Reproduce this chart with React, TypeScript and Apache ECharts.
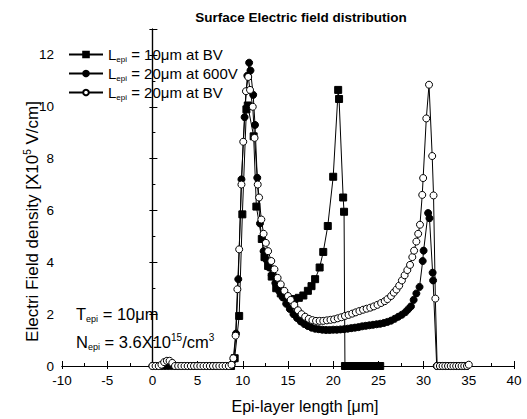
import React, { useEffect, useRef } from "react";
import * as echarts from "echarts";

const FONT = "'Liberation Sans', Arial, sans-serif";

const seriesNames = [
  "Lepi = 10μm at BV",
  "Lepi = 20μm at 600V",
  "Lepi = 20μm at BV",
];

// Lepi = 10 µm at breakdown voltage (filled squares)
const lepi10BV: [number, number][] = [
  [8.7, 0], [9.1, 0.3], [9.6, 1.93], [9.95, 5.85], [10.4, 9.9], [10.55, 10.05],
  [11.2, 8.86], [11.5, 6.15], [12.1, 4.9], [12.4, 4.2], [12.8, 3.86], [13.2, 3.45],
  [13.7, 3.0], [14.2, 2.8], [14.7, 2.65], [15.2, 2.58], [15.7, 2.58], [16.2, 2.63],
  [16.7, 2.72], [17.2, 2.9], [17.6, 3.08], [18.0, 3.35], [18.5, 3.8], [18.9, 4.4],
  [19.4, 5.4], [20.0, 7.3], [20.55, 10.65], [20.65, 10.3], [21.1, 6.5], [21.2, 5.95],
  [21.3, 0], [21.6, 0], [21.9, 0], [22.2, 0], [22.5, 0], [22.8, 0], [23.1, 0],
  [23.4, 0], [23.7, 0], [24.0, 0], [24.3, 0], [24.6, 0], [24.9, 0], [25.2, 0],
];

// Lepi = 20 µm at 600 V (filled circles)
const lepi20at600: [number, number][] = [
  [0, 0], [0.35, 0], [0.7, 0], [1.05, 0], [1.4, 0], [1.75, 0], [2.1, 0], [2.45, 0],
  [2.8, 0], [3.15, 0], [3.5, 0], [3.85, 0], [4.2, 0], [4.55, 0], [4.9, 0], [5.25, 0],
  [5.6, 0], [5.95, 0], [6.3, 0], [6.65, 0], [7.0, 0], [7.35, 0], [7.7, 0], [8.05, 0],
  [8.4, 0], [8.75, 0.05], [9.0, 0.25], [9.25, 1.25], [9.5, 3.35], [9.85, 7.2],
  [10.2, 9.6], [10.5, 11.2], [10.7, 11.7], [10.85, 11.4], [11.15, 10.46], [11.35, 9.3],
  [11.6, 7.26], [11.9, 5.5], [12.3, 4.43], [12.6, 4.1], [12.9, 3.8], [13.2, 3.5],
  [13.6, 3.2], [14.0, 2.9], [14.4, 2.65], [14.8, 2.4], [15.2, 2.2], [15.6, 2.0],
  [16.0, 1.85], [16.4, 1.72], [16.8, 1.62], [17.2, 1.54], [17.6, 1.48], [18.0, 1.44],
  [18.4, 1.42], [18.8, 1.4], [19.2, 1.39], [19.6, 1.39], [20.0, 1.4], [20.4, 1.4],
  [20.8, 1.41], [21.2, 1.42], [21.6, 1.44], [22.0, 1.46], [22.4, 1.48], [22.8, 1.5],
  [23.2, 1.53], [23.6, 1.55], [24.0, 1.57], [24.4, 1.59], [24.8, 1.61], [25.2, 1.63],
  [25.6, 1.66], [26.0, 1.7], [26.4, 1.75], [26.8, 1.82], [27.2, 1.9], [27.6, 1.98],
  [28.0, 2.08], [28.3, 2.19], [28.6, 2.3], [28.9, 2.55], [29.2, 2.8], [29.55, 3.05],
  [29.9, 4.05], [30.0, 4.45], [30.5, 5.9], [30.65, 5.7], [31.0, 3.6], [31.05, 3.3],
  [31.45, 0], [31.8, 0], [32.1, 0], [32.4, 0], [32.7, 0], [33.0, 0], [33.3, 0],
  [33.6, 0], [33.9, 0], [34.2, 0], [34.5, 0], [34.8, 0],
];

// Lepi = 20 µm at breakdown voltage (open circles)
const lepi20BV: [number, number][] = [
  [0, 0], [0.35, 0], [0.7, 0], [1.0, 0.05], [1.3, 0.15], [1.6, 0.2], [1.9, 0.2],
  [2.2, 0.12], [2.5, 0], [2.85, 0], [3.2, 0], [3.55, 0], [3.9, 0], [4.25, 0],
  [4.6, 0], [4.95, 0], [5.3, 0], [5.65, 0], [6.0, 0], [6.35, 0], [6.7, 0], [7.05, 0],
  [7.4, 0], [7.75, 0], [8.1, 0], [8.45, 0], [8.75, 0.05], [8.95, 0.3], [9.2, 1.17],
  [9.4, 2.96], [9.6, 4.5], [9.85, 7.0], [10.05, 8.65], [10.35, 10.6], [10.6, 11.15],
  [10.8, 10.65], [11.1, 10.0], [11.3, 8.8], [11.65, 7.0], [11.8, 6.5], [12.05, 5.65],
  [12.3, 5.1], [12.55, 4.75], [12.8, 4.43], [13.15, 4.05], [13.5, 3.73], [13.85, 3.4],
  [14.2, 3.15], [14.6, 2.9], [15.0, 2.7], [15.3, 2.55], [15.7, 2.35], [16.1, 2.15],
  [16.5, 2.0], [16.9, 1.9], [17.3, 1.82], [17.7, 1.77], [18.1, 1.74], [18.5, 1.74],
  [18.9, 1.74], [19.3, 1.76], [19.7, 1.78], [20.1, 1.8], [20.5, 1.84], [20.9, 1.88],
  [21.3, 1.93], [21.7, 1.97], [22.1, 2.02], [22.5, 2.07], [22.9, 2.12], [23.3, 2.17],
  [23.7, 2.21], [24.1, 2.25], [24.5, 2.3], [24.9, 2.36], [25.3, 2.43], [25.7, 2.5],
  [26.0, 2.58], [26.4, 2.7], [26.7, 2.83], [27.0, 2.95], [27.3, 3.1], [27.6, 3.3],
  [27.9, 3.5], [28.2, 3.7], [28.5, 3.9], [28.75, 4.2], [28.95, 4.45], [29.2, 4.8],
  [29.4, 5.1], [29.6, 5.45], [29.85, 6.6], [29.95, 7.25], [30.3, 9.55], [30.6, 10.85],
  [30.95, 8.1], [31.1, 6.58], [31.3, 2.6], [31.5, 0], [31.8, 0], [32.1, 0], [32.4, 0],
  [32.7, 0], [33.0, 0], [33.3, 0], [33.6, 0], [33.9, 0], [34.2, 0], [34.5, 0],
  [34.8, 0], [35.0, 0.05],
];

const legendRich: Record<string, string> = {
  "Lepi = 10μm at BV": "{m|L}{s|epi}{m| = 10μm at BV}",
  "Lepi = 20μm at 600V": "{m|L}{s|epi}{m| = 20μm at 600V}",
  "Lepi = 20μm at BV": "{m|L}{s|epi}{m| = 20μm at BV}",
};

export default function App() {
  const ref = useRef<HTMLDivElement>(null);
  useEffect(() => {
    if (!ref.current) return;
    const chart = echarts.init(ref.current, undefined, { renderer: "svg" });
    const axisCommon = {
      axisLine: { show: true, lineStyle: { color: "#000", width: 1.2 } },
      axisTick: { show: true, inside: true, length: 5, lineStyle: { color: "#000" } },
      minorTick: { show: true, splitNumber: 2, length: 3, lineStyle: { color: "#000" } },
      splitLine: { show: false },
    };
    const lineBase = { color: "#000", width: 1 };
    chart.setOption({
      animation: false,
      backgroundColor: "#fff",
      title: {
        text: "Surface Electric field distribution",
        left: 296,
        textAlign: "center",
        top: 5,
        textStyle: { fontFamily: FONT, fontSize: 13.5, fontWeight: "bold", color: "#000" },
      },
      grid: { left: 62, right: 13, top: 29, bottom: 52 },
      legend: {
        orient: "vertical",
        left: 63,
        top: 42,
        itemWidth: 34,
        itemHeight: 7,
        itemGap: 3,
        selectedMode: false,
        data: seriesNames,
        formatter: (name: string) => legendRich[name] || name,
        textStyle: {
          fontFamily: FONT,
          fontSize: 15,
          color: "#000",
          rich: {
            m: { fontFamily: FONT, fontSize: 15, color: "#000", lineHeight: 17 },
            s: { fontFamily: FONT, fontSize: 8, color: "#000", lineHeight: 6, verticalAlign: "bottom" },
          },
        },
      },
      xAxis: [
        {
          type: "value",
          min: -10,
          max: 40,
          interval: 5,
          name: "Epi-layer length [μm]",
          nameLocation: "middle",
          nameGap: 32,
          nameTextStyle: { fontFamily: FONT, fontSize: 16, color: "#000", padding: [0, 0, 0, 34] },
          axisLabel: { fontFamily: FONT, fontSize: 13.5, color: "#000", margin: 7 },
          ...axisCommon,
        },
        {
          type: "value",
          position: "top",
          min: -10,
          max: 40,
          interval: 5,
          axisLabel: { show: false },
          ...axisCommon,
          axisTick: { show: true, inside: true, length: 3, lineStyle: { color: "#000" } },
          minorTick: { show: false },
        },
      ],
      yAxis: [
        {
          type: "value",
          min: 0,
          max: 13,
          interval: 2,
          name: "{m|Electri Field density [X10}{p|5}{m| V/cm]}",
          nameLocation: "middle",
          nameGap: 20,
          nameMoveOverlap: false,
          nameTextStyle: {
            fontFamily: FONT,
            fontSize: 17,
            color: "#000",
            padding: [0, 48, 0, 0],
            rich: {
              m: { fontFamily: FONT, fontSize: 17, color: "#000", lineHeight: 20 },
              p: { fontFamily: FONT, fontSize: 10, color: "#000", lineHeight: 10, verticalAlign: "top" },
            },
          },
          axisLabel: { fontFamily: FONT, fontSize: 13.5, color: "#000", margin: 8, showMaxLabel: false },
          ...axisCommon,
        },
        {
          type: "value",
          position: "right",
          min: 0,
          max: 13,
          interval: 2,
          axisLabel: { show: false },
          ...axisCommon,
          axisTick: { show: true, inside: true, length: 3, lineStyle: { color: "#000" } },
          minorTick: { show: false },
        },
      ],
      graphic: [
        {
          type: "text",
          left: 76,
          top: 305,
          style: {
            text: "{m|T}{s|epi}{m| = 10μm}",
            rich: {
              m: { fontFamily: FONT, fontSize: 16.5, fill: "#000", lineHeight: 19 },
              s: { fontFamily: FONT, fontSize: 9, fill: "#000", lineHeight: 7, verticalAlign: "bottom" },
            },
          },
        },
        {
          type: "text",
          left: 76,
          top: 332,
          style: {
            text: "{m|N}{s|epi}{m| = 3.6X10}{p|15}{m|/cm}{p|3}",
            rich: {
              m: { fontFamily: FONT, fontSize: 16.5, fill: "#000", lineHeight: 19 },
              s: { fontFamily: FONT, fontSize: 9, fill: "#000", lineHeight: 7, verticalAlign: "bottom" },
              p: { fontFamily: FONT, fontSize: 10, fill: "#000", lineHeight: 9, verticalAlign: "top" },
            },
          },
        },
      ],
      series: [
        {
          name: seriesNames[0],
          type: "line",
          data: lepi10BV,
          symbol: "rect",
          symbolSize: 7,
          showAllSymbol: true,
          lineStyle: lineBase,
          itemStyle: { color: "#000", borderColor: "#000", borderWidth: 1 },
        },
        {
          name: seriesNames[1],
          type: "line",
          data: lepi20at600,
          symbol: "circle",
          symbolSize: 7,
          showAllSymbol: true,
          lineStyle: lineBase,
          itemStyle: { color: "#000", borderColor: "#000", borderWidth: 1 },
        },
        {
          name: seriesNames[2],
          type: "line",
          data: lepi20BV,
          symbol: "circle",
          symbolSize: 7,
          showAllSymbol: true,
          lineStyle: lineBase,
          itemStyle: { color: "#fff", borderColor: "#000", borderWidth: 1 },
        },
      ],
    });
    return () => chart.dispose();
  }, []);
  return <div ref={ref} style={{ width: 527, height: 419, position: "absolute", left: 0, top: 0 }} />;
}
